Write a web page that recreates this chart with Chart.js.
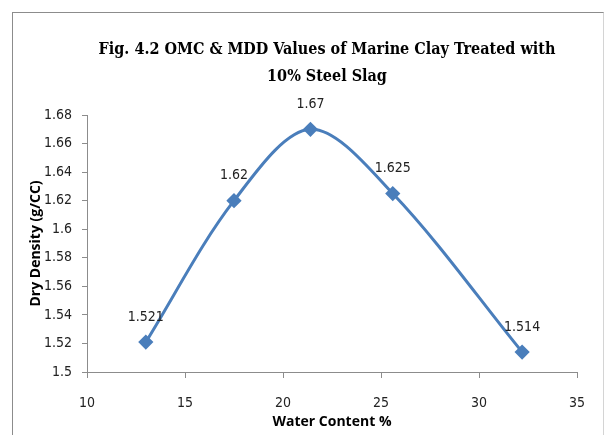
<!DOCTYPE html>
<html>
<head>
<meta charset="utf-8">
<script src="https://cdn.jsdelivr.net/npm/chart.js@4.4.1/dist/chart.umd.min.js"></script>
<style>
  html, body { margin: 0; padding: 0; background: #fff; }
  #frame { position: absolute; left: 12px; top: 12px; width: 590px; height: 440px;
           border-left: 1px solid #8c8c8c; border-top: 1px solid #8c8c8c; border-right: 1px solid #d4d4d4; }
  #c { position: absolute; left: 0; top: 0; }
</style>
</head>
<body>
<div id="frame"></div>
<canvas id="c" width="605" height="435"></canvas>
<script>
const waterContent = [13.0, 17.5, 21.4, 25.6, 32.2];
const dryDensity = [1.521, 1.62, 1.67, 1.625, 1.514];
const titleLines = ['Fig. 4.2 OMC & MDD Values of Marine Clay Treated with', '10% Steel Slag'];
const xTitle = 'Water Content %';
const yTitle = 'Dry Density (g/CC)';

const tickFont = "'Liberation Sans Narrow', 'DejaVu Sans Condensed', Lato, sans-serif";

const titlePlugin = {
  id: 'figTitle',
  afterDraw(chart) {
    const ctx = chart.ctx;
    ctx.save();
    ctx.fillStyle = '#000';
    ctx.textAlign = 'center';
    ctx.textBaseline = 'middle';
    ctx.font = "bold 16px 'DejaVu Serif Condensed', 'DejaVu Serif', serif";
    ctx.fillText(titleLines[0], 327, 50);
    ctx.fillText(titleLines[1], 327, 77);
    ctx.restore();
  }
};

const labelPlugin = {
  id: 'pointLabels',
  afterDatasetsDraw(chart) {
    const ctx = chart.ctx;
    const meta = chart.getDatasetMeta(0);
    ctx.save();
    ctx.fillStyle = '#222';
    ctx.textAlign = 'center';
    ctx.textBaseline = 'middle';
    ctx.font = "14px " + tickFont;
    meta.data.forEach((pt, i) => {
      ctx.fillText(String(dryDensity[i]), pt.x, pt.y - 25);
    });
    ctx.restore();
  }
};

new Chart(document.getElementById('c'), {
  type: 'scatter',
  data: {
    datasets: [{
      data: waterContent.map((x, i) => ({ x: x, y: dryDensity[i] })),
      showLine: true,
      borderColor: '#4a7ebb',
      backgroundColor: '#4a7ebb',
      borderWidth: 3,
      tension: 0.33,
      pointStyle: 'rectRot',
      pointRadius: 5.5,
      pointHoverRadius: 5.5,
      clip: false
    }]
  },
  options: {
    responsive: false,
    animation: false,
    events: [],
    layout: { padding: { top: 115, left: 0, right: 28, bottom: 0 } },
    plugins: { legend: { display: false }, title: { display: false }, tooltip: { enabled: false } },
    scales: {
      x: {
        type: 'linear',
        min: 10, max: 35,
        ticks: { stepSize: 5, color: '#222', font: { family: tickFont, size: 14 }, padding: 17 },
        grid: { drawOnChartArea: false, drawTicks: true, tickLength: 6, color: '#8c8c8c' },
        border: { color: '#8c8c8c', width: 1 },
        title: { display: true, text: xTitle, color: '#000',
                 font: { family: "'Open Sans', Lato, sans-serif", size: 14, weight: 'bold' },
                 padding: { top: 0, bottom: 5 } },
        afterFit(scale) { scale.height = 63; }
      },
      y: {
        type: 'linear',
        min: 1.5, max: 1.68,
        ticks: { stepSize: 0.02, color: '#222', font: { family: tickFont, size: 14 }, padding: 10,
                 callback: v => String(Math.round(v * 100) / 100) },
        grid: { drawOnChartArea: false, drawTicks: true, tickLength: 5, color: '#8c8c8c' },
        border: { color: '#8c8c8c', width: 1 },
        title: { display: true, text: yTitle, color: '#000',
                 font: { family: "'Open Sans', Lato, sans-serif", size: 14, weight: 'bold' },
                 padding: { top: 28, bottom: 0 } },
        afterFit(scale) { scale.width = 87; }
      }
    }
  },
  plugins: [titlePlugin, labelPlugin]
});
</script>
</body>
</html>
